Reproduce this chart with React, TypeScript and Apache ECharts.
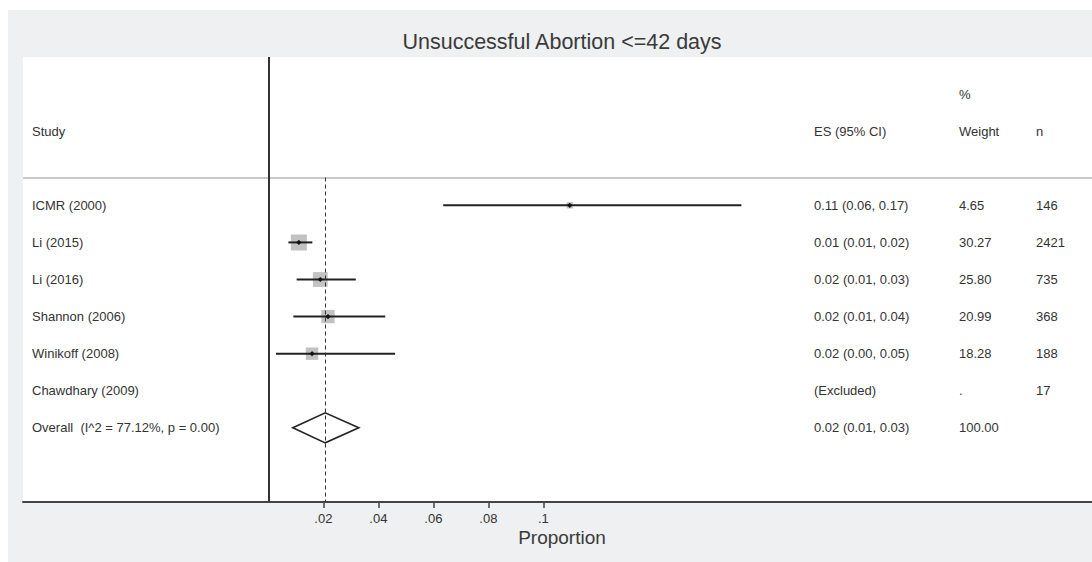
import React, { useEffect, useRef } from "react";
import * as echarts from "echarts";

const title = "Unsuccessful Abortion <=42 days";
const studies = [
  "ICMR (2000)",
  "Li (2015)",
  "Li (2016)",
  "Shannon (2006)",
  "Winikoff (2008)",
  "Chawdhary (2009)",
  "Overall  (I^2 = 77.12%, p = 0.00)",
];
// effect size and 95% CI; null = excluded
const esValues = [0.1096, 0.0111, 0.0189, 0.0217, 0.0159, null, 0.0207];
const ciLower = [0.0636, 0.0073, 0.0103, 0.0091, 0.0028, null, 0.0089];
const ciUpper = [0.172, 0.016, 0.0318, 0.0425, 0.0461, null, 0.0329];
const weights = [4.65, 30.27, 25.8, 20.99, 18.28, null, 100];
const esLabels = [
  "0.11 (0.06, 0.17)",
  "0.01 (0.01, 0.02)",
  "0.02 (0.01, 0.03)",
  "0.02 (0.01, 0.04)",
  "0.02 (0.00, 0.05)",
  "(Excluded)",
  "0.02 (0.01, 0.03)",
];
const weightLabels = ["4.65", "30.27", "25.80", "20.99", "18.28", ".", "100.00"];
const nLabels = ["146", "2421", "735", "368", "188", "17", ""];
const xTicks = [0.02, 0.04, 0.06, 0.08, 0.1];
const headerStudy = "Study";
const headerES = "ES (95% CI)";
const headerPct = "%";
const headerWeight = "Weight";
const headerN = "n";
const xTitle = "Proportion";

const FONT = '"Liberation Sans", Arial, sans-serif';
const TXT = "#333333";

export default function App() {
  const ref = useRef<HTMLDivElement>(null);
  useEffect(() => {
    if (!ref.current) return;
    const chart = echarts.init(ref.current, null, { renderer: "svg" });
    const overallIdx = studies.length - 1;
    const studyData: any[] = [];
    for (let i = 0; i < overallIdx; i++) {
      if (esValues[i] == null) continue;
      studyData.push([i, esValues[i], ciLower[i], ciUpper[i], weights[i]]);
    }
    const overallData = [[overallIdx, esValues[overallIdx], ciLower[overallIdx], ciUpper[overallIdx]]];

    const option: any = {
      animation: false,
      backgroundColor: "#eef0f1",
      textStyle: { fontFamily: FONT },
      grid: {
        left: 15,
        right: 0,
        top: 47,
        bottom: 60,
        show: true,
        backgroundColor: "#ffffff",
        borderWidth: 0,
      },
      xAxis: {
        type: "value",
        min: -0.0892,
        max: 0.2995,
        position: "bottom",
        axisLine: { show: true, onZero: false, lineStyle: { color: "#444", width: 2 } },
        axisTick: {
          show: true,
          customValues: xTicks,
          length: 6,
          lineStyle: { color: "#444", width: 1.5 },
        },
        axisLabel: {
          show: true,
          customValues: xTicks,
          margin: 10,
          fontSize: 13,
          color: TXT,
          fontFamily: FONT,
          formatter: (v: number) => String(v).replace(/^0/, ""),
        },
        splitLine: { show: false },
      },
      yAxis: {
        type: "value",
        inverse: true,
        min: -4,
        max: 8,
        show: false,
        splitLine: { show: false },
      },
      series: [
        {
          type: "custom",
          name: "studies",
          data: studyData,
          encode: { x: [1, 2, 3], y: 0 },
          renderItem: (params: any, api: any) => {
            const row = api.value(0);
            const es = api.value(1);
            const lo = api.value(2);
            const hi = api.value(3);
            const w = api.value(4);
            const p = api.coord([es, row]);
            const pl = api.coord([lo, row]);
            const ph = api.coord([hi, row]);
            const s = Math.sqrt(w) * 2.91;
            const d = 2.6;
            return {
              type: "group",
              children: [
                {
                  type: "rect",
                  shape: { x: p[0] - s / 2, y: p[1] - s / 2, width: s, height: s },
                  style: { fill: "#c2c2c2" },
                },
                {
                  type: "line",
                  shape: { x1: pl[0], y1: pl[1], x2: ph[0], y2: ph[1] },
                  style: { stroke: "#222", lineWidth: 2 },
                },
                {
                  type: "polygon",
                  shape: {
                    points: [
                      [p[0], p[1] - d],
                      [p[0] + d, p[1]],
                      [p[0], p[1] + d],
                      [p[0] - d, p[1]],
                    ],
                  },
                  style: { fill: "#111" },
                },
              ],
            };
          },
          markLine: {
            silent: true,
            symbol: "none",
            label: { show: false },
            data: [
              { yAxis: -0.75, lineStyle: { color: "#c9c9c9", width: 2, type: "solid" } },
              { xAxis: 0, lineStyle: { color: "#333", width: 2, type: "solid" } },
              [
                { coord: [esValues[overallIdx], -0.75], lineStyle: { color: "#333", width: 1, type: [4, 3] } },
                { coord: [esValues[overallIdx], 8] },
              ],
            ],
          },
          z: 3,
        },
        {
          type: "custom",
          name: "overall",
          data: overallData,
          encode: { x: [1, 2, 3], y: 0 },
          renderItem: (params: any, api: any) => {
            const row = api.value(0);
            const es = api.value(1);
            const lo = api.value(2);
            const hi = api.value(3);
            const h = 0.405;
            const a = api.coord([lo, row]);
            const b = api.coord([es, row - h]);
            const c = api.coord([hi, row]);
            const dd = api.coord([es, row + h]);
            return {
              type: "polygon",
              shape: { points: [a, b, c, dd] },
              style: { fill: "none", stroke: "#222", lineWidth: 1.6 },
            };
          },
          z: 4,
        },
      ],
    };
    chart.setOption(option);

    const rowY = (i: number) => chart.convertToPixel({ yAxisIndex: 0 } as any, i) as number;
    const txt = (x: number, y: number, t: string, extra: any = {}) => ({
      type: "text",
      x,
      y,
      silent: true,
      style: {
        text: t,
        fill: TXT,
        font: `13px ${FONT}`,
        textAlign: "left",
        textVerticalAlign: "middle",
        ...extra,
      },
    });
    const elements: any[] = [];
    elements.push(
      txt(554, 32, title, { font: `21.5px ${FONT}`, textAlign: "center", fill: "#3a3a3a" })
    );
    elements.push(txt(554, 527, xTitle, { font: `19px ${FONT}`, textAlign: "center", fill: "#3a3a3a" }));
    elements.push(txt(24, rowY(-2), headerStudy));
    elements.push(txt(806, rowY(-2), headerES));
    elements.push(txt(951, rowY(-3), headerPct));
    elements.push(txt(951, rowY(-2), headerWeight));
    elements.push(txt(1028, rowY(-2), headerN));
    studies.forEach((s, i) => {
      const y = rowY(i);
      elements.push(txt(24, y, s));
      elements.push(txt(806, y, esLabels[i]));
      elements.push(txt(951, y, weightLabels[i]));
      if (nLabels[i]) elements.push(txt(1028, y, nLabels[i]));
    });
    chart.setOption({ graphic: { elements } });

    return () => chart.dispose();
  }, []);
  return (
    <div
      ref={ref}
      style={{ position: "fixed", left: 8, top: 10, width: 1084, height: 552 }}
    />
  );
}
